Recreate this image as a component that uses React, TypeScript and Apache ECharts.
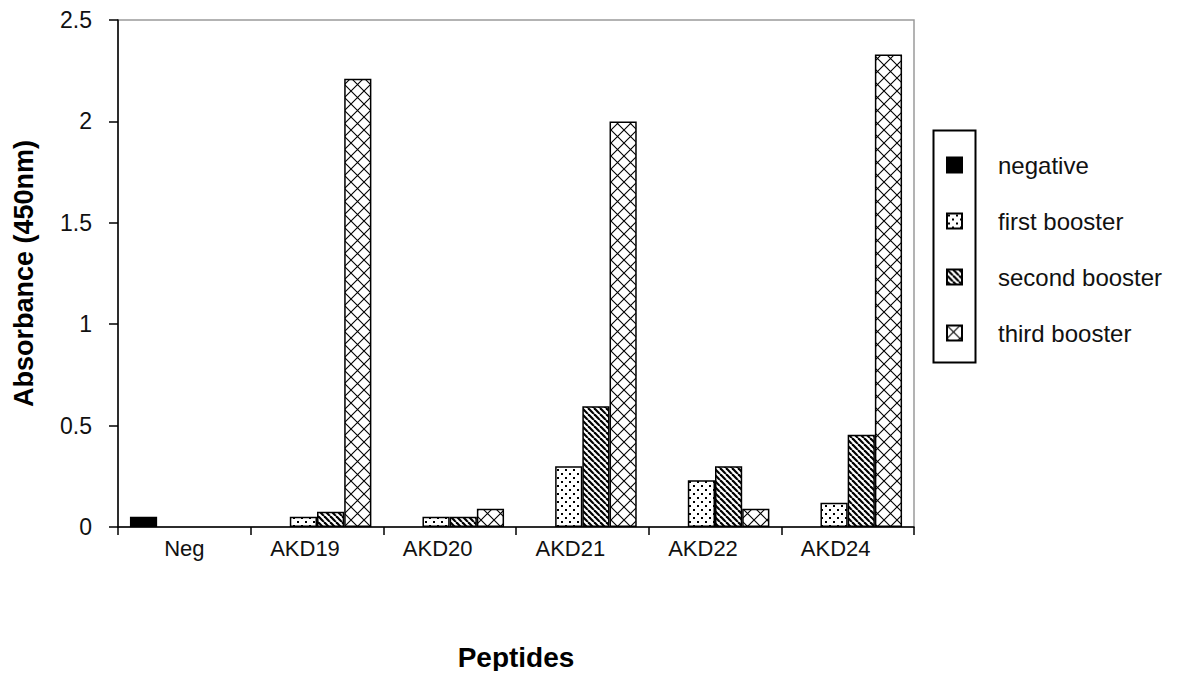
import React, { useEffect, useRef } from "react";
import * as echarts from "echarts";

const categories = ["Neg", "AKD19", "AKD20", "AKD21", "AKD22", "AKD24"];
const negative = [0.05, null, null, null, null, null];
const firstBooster = [null, 0.05, 0.05, 0.3, 0.23, 0.12];
const secondBooster = [null, 0.075, 0.05, 0.595, 0.3, 0.455];
const thirdBooster = [null, 2.21, 0.09, 2.0, 0.09, 2.33];
const seriesNames = ["negative", "first booster", "second booster", "third booster"];
const yTicks = { min: 0, max: 2.5, interval: 0.5 };

function makeCanvas(w: number, h: number, draw: (ctx: CanvasRenderingContext2D) => void) {
  const c = document.createElement("canvas");
  c.width = w;
  c.height = h;
  const ctx = c.getContext("2d")!;
  ctx.fillStyle = "#ffffff";
  ctx.fillRect(0, 0, w, h);
  draw(ctx);
  return c;
}

export default function App() {
  const ref = useRef<HTMLDivElement>(null);
  useEffect(() => {
    if (!ref.current) return;
    const chart = echarts.init(ref.current, undefined, { renderer: "svg" });

    const dots = makeCanvas(8, 8, (ctx) => {
      ctx.fillStyle = "#000";
      ctx.fillRect(1, 1, 2, 2);
      ctx.fillRect(5, 5, 2, 2);
    });
    const stripes = makeCanvas(6, 6, (ctx) => {
      ctx.strokeStyle = "#000";
      ctx.lineWidth = 2.2;
      for (let k = -1; k <= 1; k++) {
        ctx.beginPath();
        ctx.moveTo(k * 6, 0);
        ctx.lineTo(k * 6 + 6, 6);
        ctx.stroke();
      }
    });
    const cross = makeCanvas(13, 13, (ctx) => {
      ctx.strokeStyle = "#000";
      ctx.lineWidth = 1.1;
      ctx.beginPath();
      ctx.moveTo(0, 0);
      ctx.lineTo(13, 13);
      ctx.moveTo(13, 0);
      ctx.lineTo(0, 13);
      ctx.stroke();
    });

    const pat = (c: HTMLCanvasElement) => ({ image: c.toDataURL(), repeat: "repeat", imageWidth: c.width, imageHeight: c.height } as any);

    const font = "'Liberation Sans', Arial, sans-serif";
    const fills = ["#000000", pat(dots), pat(stripes), pat(cross)];
    const datas = [negative, firstBooster, secondBooster, thirdBooster];

    const catData = categories.map((c, i) =>
      i === 0
        ? c
        : { value: c, textStyle: { fontSize: 22, color: "#111", fontFamily: font, padding: [0, 24, 0, 0] } }
    );

    chart.setOption({
      animation: false,
      backgroundColor: "#ffffff",
      textStyle: { fontFamily: font },
      grid: {
        left: 118,
        top: 20,
        right: 282,
        bottom: 152,
        show: true,
        borderColor: "#9a9a9a",
        borderWidth: 1.5,
        containLabel: false,
      },
      legend: {
        orient: "vertical",
        left: 941,
        top: 148,
        itemWidth: 15,
        itemHeight: 15,
        itemGap: 32,
        icon: "rect",
        data: seriesNames,
        textStyle: { fontSize: 24, color: "#111", fontFamily: font, padding: [0, 0, 0, 31] },
      },
      graphic: [
        {
          type: "rect",
          left: 931,
          top: 128,
          shape: { width: 42, height: 232 },
          style: { fill: "none", stroke: "#000", lineWidth: 2 },
          z: 100,
        },
      ],
      xAxis: {
        type: "category",
        data: catData,
        name: "Peptides",
        nameLocation: "middle",
        nameGap: 116,
        nameTextStyle: { fontSize: 28, fontWeight: "bold", color: "#000", fontFamily: font },
        axisLine: { lineStyle: { color: "#000", width: 1.5 } },
        axisTick: { show: true, alignWithLabel: false, length: 8, lineStyle: { color: "#000", width: 1.5 } },
        axisLabel: { fontSize: 22, color: "#111", margin: 10, fontFamily: font },
      },
      yAxis: {
        type: "value",
        min: yTicks.min,
        max: yTicks.max,
        interval: yTicks.interval,
        name: "Absorbance (450nm)",
        nameLocation: "middle",
        nameGap: 81,
        nameTextStyle: { fontSize: 27, fontWeight: "bold", color: "#000", fontFamily: font },
        splitLine: { show: false },
        axisLine: { show: true, lineStyle: { color: "#000", width: 1.5 } },
        axisTick: { show: true, length: 9, lineStyle: { color: "#000", width: 1.5 } },
        axisLabel: { fontSize: 23, color: "#111", margin: 26, fontFamily: font },
      },
      series: seriesNames.map((name, i) => ({
        name,
        type: "bar",
        data: datas[i],
        barGap: "0%",
        barCategoryGap: "18%",
        itemStyle: { color: fills[i], borderColor: "#000", borderWidth: 1.5 },
      })),
    });

    return () => chart.dispose();
  }, []);
  return <div ref={ref} style={{ width: 1196, height: 679, margin: -8 }} />;
}
